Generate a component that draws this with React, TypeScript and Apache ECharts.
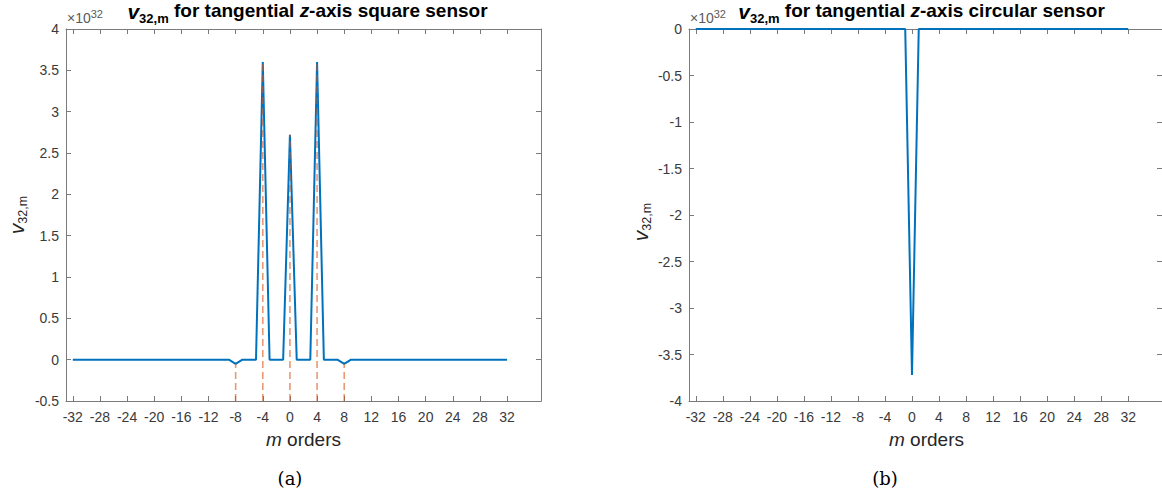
import React, { useEffect, useRef } from "react";
import * as echarts from "echarts";

// m orders (x categories)
const M_ORDERS = [
  -32, -31, -30, -29, -28, -27, -26, -25,
  -24, -23, -22, -21, -20, -19, -18, -17,
  -16, -15, -14, -13, -12, -11, -10, -9,
  -8, -7, -6, -5, -4, -3, -2, -1,
  0, 1, 2, 3, 4, 5, 6, 7,
  8, 9, 10, 11, 12, 13, 14, 15,
  16, 17, 18, 19, 20, 21, 22, 23,
  24, 25, 26, 27, 28, 29, 30, 31,
  32,
];

// v_{32,m} values, in units of 10^32
const SQUARE_V = [
  0, 0, 0, 0, 0, 0, 0, 0,
  0, 0, 0, 0, 0, 0, 0, 0,
  0, 0, 0, 0, 0, 0, 0, 0,
  -0.05, 0, 0, 0, 3.6, 0, 0, 0,
  2.72, 0, 0, 0, 3.6, 0, 0, 0,
  -0.05, 0, 0, 0, 0, 0, 0, 0,
  0, 0, 0, 0, 0, 0, 0, 0,
  0, 0, 0, 0, 0, 0, 0, 0,
  0,
];

const CIRCULAR_V = [
  0, 0, 0, 0, 0, 0, 0, 0,
  0, 0, 0, 0, 0, 0, 0, 0,
  0, 0, 0, 0, 0, 0, 0, 0,
  0, 0, 0, 0, 0, 0, 0, 0,
  -3.72, 0, 0, 0, 0, 0, 0, 0,
  0, 0, 0, 0, 0, 0, 0, 0,
  0, 0, 0, 0, 0, 0, 0, 0,
  0, 0, 0, 0, 0, 0, 0, 0,
  0,
];

// stems (dashed) drawn at these m orders in plot (a)
const STEM_M = [-8, -4, 0, 4, 8];

// tick labels
const X_TICKS = [-32, -28, -24, -20, -16, -12, -8, -4, 0, 4, 8, 12, 16, 20, 24, 28, 32];
const X_RANGE = [-33, 37];
const Y_RANGE_A = [-0.5, 4];
const Y_RANGE_B = [-4, 0];
const Y_STEP = 0.5;
const EXPONENT = "32";

const FONT = "'Liberation Sans', Arial, Helvetica, sans-serif";
const AXIS_COLOR = "#7a7a7a";
const LABEL_COLOR = "#3a3a3a";
const BLUE = "#0072BD";
const STEM_COLOR = "rgba(217,83,25,0.6)";

export default function App() {
  const ref = useRef<HTMLDivElement>(null);

  useEffect(() => {
    if (!ref.current) return;
    const chart = echarts.init(ref.current, null, { renderer: "svg" });

    const grids = [
      { left: 66, top: 29, width: 475, height: 372 },
      { left: 689, top: 29, width: 475, height: 372 },
    ];

    const mkX = (gi: number, pos: "bottom" | "top") => ({
      type: "value",
      gridIndex: gi,
      position: pos,
      min: X_RANGE[0],
      max: X_RANGE[1],
      axisLine: { show: true, onZero: false, lineStyle: { color: AXIS_COLOR, width: 1 } },
      axisTick: {
        show: true,
        inside: true,
        length: 5,
        customValues: X_TICKS,
        lineStyle: { color: AXIS_COLOR },
      },
      axisLabel: {
        show: pos === "bottom",
        customValues: X_TICKS,
        fontSize: 14,
        fontFamily: FONT,
        color: LABEL_COLOR,
        margin: 9,
      },
      splitLine: { show: false },
    });

    const mkY = (gi: number, pos: "left" | "right", range: number[]) => ({
      type: "value",
      gridIndex: gi,
      position: pos,
      min: range[0],
      max: range[1],
      interval: Y_STEP,
      axisLine: { show: true, onZero: false, lineStyle: { color: AXIS_COLOR, width: 1 } },
      axisTick: { show: true, inside: true, length: 5, lineStyle: { color: AXIS_COLOR } },
      axisLabel: {
        show: pos === "left",
        fontSize: 14,
        fontFamily: FONT,
        color: LABEL_COLOR,
        margin: 7,
      },
      splitLine: { show: false },
    });

    const squareData = M_ORDERS.map((m, i) => [m, SQUARE_V[i]]);
    const circData = M_ORDERS.map((m, i) => [m, CIRCULAR_V[i]]);
    const stemData = STEM_M.map((m) => [m, SQUARE_V[M_ORDERS.indexOf(m)]]);

    const titleRich = {
      v: { fontSize: 21, fontWeight: "bold", fontStyle: "italic", fontFamily: FONT, lineHeight: 21, verticalAlign: "top", color: "#000", fill: "#000" },
      s: { fontSize: 13, fontWeight: "bold", fontFamily: FONT, lineHeight: 14, padding: [11, 0, 0, 0], verticalAlign: "top", color: "#000", fill: "#000" },
      t: { fontSize: 19, fontWeight: "bold", fontFamily: FONT, lineHeight: 20, verticalAlign: "top", color: "#000", fill: "#000" },
      z: { fontSize: 19, fontWeight: "bold", fontStyle: "italic", fontFamily: FONT, lineHeight: 20, verticalAlign: "top", color: "#000", fill: "#000" },
    };
    const expRich = {
      a: { fontSize: 14, fontFamily: FONT, lineHeight: 20, color: "#5a5a5a", fill: "#5a5a5a" },
      b: { fontSize: 11, fontFamily: FONT, lineHeight: 10, verticalAlign: "top", color: "#5a5a5a", fill: "#5a5a5a" },
    };
    const ylabRich = {
      v: { fontSize: 21, fontStyle: "italic", fontFamily: FONT, lineHeight: 26, color: "#262626", fill: "#262626" },
      s: { fontSize: 12.5, fontFamily: FONT, lineHeight: 12, verticalAlign: "bottom", color: "#262626", fill: "#262626" },
    };
    const xlabRich = {
      i: { fontSize: 19, fontStyle: "italic", fontFamily: FONT, color: "#262626", fill: "#262626" },
      r: { fontSize: 19, fontFamily: FONT, color: "#262626", fill: "#262626" },
    };

    const txt = (x: number, y: number, text: string, rich: any, align = "center", vAlign = "middle", rotation = 0) => ({
      type: "text",
      x,
      y,
      rotation,
      style: {
        text,
        rich,
        align,
        verticalAlign: vAlign,
        textAlign: align,
        textVerticalAlign: vAlign,
      },
    });

    const cx0 = grids[0].left + grids[0].width / 2;
    const cx1 = grids[1].left + grids[1].width / 2;

    chart.setOption({
      animation: false,
      backgroundColor: "#ffffff",
      grid: grids,
      xAxis: [mkX(0, "bottom"), mkX(0, "top"), mkX(1, "bottom"), mkX(1, "top")],
      yAxis: [mkY(0, "left", Y_RANGE_A), mkY(0, "right", Y_RANGE_A), mkY(1, "left", Y_RANGE_B), mkY(1, "right", Y_RANGE_B)],
      series: [
        {
          type: "line",
          xAxisIndex: 0,
          yAxisIndex: 0,
          data: squareData,
          showSymbol: false,
          clip: false,
          lineStyle: { color: BLUE, width: 2 },
          z: 2,
        },
        {
          type: "custom",
          xAxisIndex: 0,
          yAxisIndex: 0,
          data: stemData,
          z: 3,
          clip: false,
          renderItem: (params: any, api: any) => {
            const x = api.value(0);
            const y = api.value(1);
            const p0 = api.coord([x, Y_RANGE_A[0]]);
            const p1 = api.coord([x, y]);
            return {
              type: "line",
              shape: { x1: p0[0], y1: p0[1], x2: p1[0], y2: p1[1] },
              style: { stroke: STEM_COLOR, lineWidth: 1.6, lineDash: [7, 4] },
            };
          },
        },
        {
          type: "line",
          xAxisIndex: 2,
          yAxisIndex: 2,
          data: circData,
          showSymbol: false,
          clip: false,
          lineStyle: { color: BLUE, width: 2 },
          z: 2,
        },
      ],
      graphic: [
        txt(cx0 + 4, 1, "{v|v}{s|32,m}{t| for tangential }{z|z}{t|-axis square sensor}", titleRich, "center", "top"),
        txt(cx1 - 5, 1, "{v|v}{s|32,m}{t| for tangential }{z|z}{t|-axis circular sensor}", titleRich, "center", "top"),
        txt(grids[0].left + 1, 28, `{a|×10}{b|${EXPONENT}}`, expRich, "left", "bottom"),
        txt(grids[1].left + 1, 28, `{a|×10}{b|${EXPONENT}}`, expRich, "left", "bottom"),
        txt(16, 215, "{v|v}{s|32,m}", ylabRich, "center", "middle", Math.PI / 2),
        txt(640, 222, "{v|v}{s|32,m}", ylabRich, "center", "middle", Math.PI / 2),
        txt(cx0, 439, "{i|m}{r| orders}", xlabRich, "center", "middle"),
        txt(cx1, 439, "{i|m}{r| orders}", xlabRich, "center", "middle"),
        {
          type: "text",
          x: 290,
          y: 478,
          style: { text: "(a)", font: "18px 'DejaVu Serif', 'Liberation Serif', serif", fill: "#000", align: "center", verticalAlign: "middle", textAlign: "center", textVerticalAlign: "middle" },
        },
        {
          type: "text",
          x: 885,
          y: 478,
          style: { text: "(b)", font: "18px 'DejaVu Serif', 'Liberation Serif', serif", fill: "#000", align: "center", verticalAlign: "middle", textAlign: "center", textVerticalAlign: "middle" },
        },
      ],
    });

    return () => chart.dispose();
  }, []);

  return <div ref={ref} style={{ width: 1162, height: 497, position: "absolute", left: 0, top: 0 }} />;
}
